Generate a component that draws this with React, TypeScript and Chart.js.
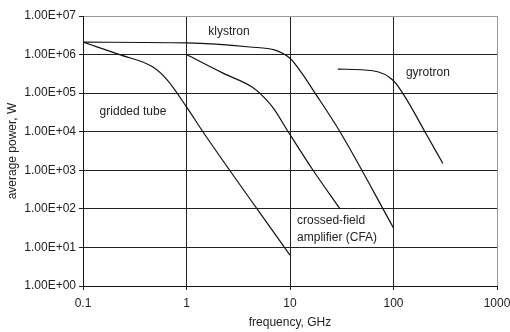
import React, { useEffect, useRef } from "react";
import { Chart, registerables } from "chart.js";

Chart.register(...registerables);

const xTicks = [0.1, 1, 10, 100, 1000];
const yTicks = [1, 10, 100, 1e3, 1e4, 1e5, 1e6, 1e7];

const griddedX = [0.1, 0.23, 0.47, 0.65, 1, 1.44, 10];
const griddedY = [2.1e6, 9.8e5, 4.8e5, 2.2e5, 4.4e4, 1e4, 6.3];

const klystronX = [0.1, 1, 4.1, 7.2, 10, 13, 16.7, 30.4, 100];
const klystronY = [2.1e6, 2.0e6, 1.57e6, 1.3e6, 8.0e5, 3.3e5, 1.2e5, 1e4, 32];

const cfaX = [1, 2.25, 4.3, 5.1, 6.9, 9.6, 16.7, 30.4];
const cfaY = [1e6, 3.3e5, 1.45e5, 1e5, 4.1e4, 1e4, 1e3, 100];

const gyrotronX = [29, 63, 100, 135, 201, 300];
const gyrotronY = [4.2e5, 3.8e5, 2.1e5, 6.6e4, 1e4, 1.5e3];

const noteText = ["klystron", "gridded tube", "gyrotron", "crossed-field", "amplifier (CFA)"];
const noteX = [2.57, 0.304, 215, 11.7, 11.7];
const noteY = [3.85e6, 3.4e4, 3.3e5, 48, 17.5];
const noteAlign = ["center", "center", "center", "left", "left"];

const FONT = "'Liberation Sans', Arial, sans-serif";

function pts(xs: number[], ys: number[]) {
  return xs.map((x, i) => ({ x, y: ys[i] }));
}

function fmtExp(v: number) {
  const e = Math.round(Math.log10(v));
  const s = e < 0 ? "-" : "+";
  const a = Math.abs(e);
  return "1.00E" + s + (a < 10 ? "0" + a : "" + a);
}

const notesPlugin = {
  id: "notes",
  afterDatasetsDraw(chart: any) {
    const ctx = chart.ctx;
    const xs = chart.scales.x;
    const ys = chart.scales.y;
    ctx.save();
    ctx.font = "12px " + FONT;
    ctx.fillStyle = "#222";
    ctx.textBaseline = "middle";
    noteText.forEach((t, i) => {
      ctx.textAlign = noteAlign[i];
      ctx.fillText(t, xs.getPixelForValue(noteX[i]), ys.getPixelForValue(noteY[i]));
    });
    ctx.restore();
  },
};

export default function App() {
  const ref = useRef<HTMLCanvasElement>(null);
  useEffect(() => {
    if (!ref.current) return;
    const line = (xs: number[], ys: number[]) => ({
      data: pts(xs, ys),
      showLine: true,
      borderColor: "#111",
      borderWidth: 1.2,
      pointRadius: 0,
      cubicInterpolationMode: "monotone" as const,
      fill: false,
    });
    const chart = new Chart(ref.current, {
      type: "scatter",
      data: {
        datasets: [
          line(griddedX, griddedY),
          line(klystronX, klystronY),
          line(cfaX, cfaY),
          line(gyrotronX, gyrotronY),
        ],
      },
      options: {
        animation: false,
        responsive: false,
        maintainAspectRatio: false,
        layout: { padding: { left: 0, top: 16, right: 0, bottom: 0 } },
        plugins: { legend: { display: false }, tooltip: { enabled: false } },
        scales: {
          x: {
            type: "logarithmic",
            min: 0.1,
            max: 1000,
            afterBuildTicks: (s: any) => {
              s.ticks = xTicks.map((v) => ({ value: v }));
            },
            afterFit: (s: any) => {
              s.height = 46;
              s.paddingRight = 13;
              s.paddingLeft = 0;
            },
            ticks: {
              color: "#222",
              font: { family: FONT, size: 12 },
              padding: 6,
              maxRotation: 0,
              autoSkip: false,
              callback: (v: any) => String(v),
            },
            grid: {
              color: (c: any) => (c.tick && c.tick.value === 1000 ? "#999" : "#222"),
              tickColor: "#222",
              tickLength: 4,
              lineWidth: 1,
            },
            border: { color: "#111", width: 1 },
            title: {
              display: true,
              text: "frequency, GHz",
              color: "#222",
              font: { family: FONT, size: 12 },
              padding: { top: 0, bottom: 2 },
            },
          },
          y: {
            type: "logarithmic",
            min: 1,
            max: 1e7,
            afterBuildTicks: (s: any) => {
              s.ticks = yTicks.map((v) => ({ value: v }));
            },
            afterFit: (s: any) => {
              s.width = 83;
            },
            ticks: {
              color: "#222",
              font: { family: FONT, size: 12 },
              padding: 3,
              autoSkip: false,
              callback: (v: any) => fmtExp(Number(v)),
            },
            grid: {
              color: (c: any) => (c.tick && c.tick.value === 1e7 ? "#999" : "#222"),
              tickColor: "#222",
              tickLength: 4,
              lineWidth: 1,
            },
            border: { color: "#111", width: 1 },
            title: {
              display: true,
              text: "average power, W",
              color: "#222",
              font: { family: FONT, size: 12 },
              padding: { top: 5, bottom: 0 },
            },
          },
        },
      },
      plugins: [notesPlugin],
    });
    return () => chart.destroy();
  }, []);
  return (
    <div style={{ position: "fixed", left: 0, top: 0, width: 510, height: 332, background: "#fff" }}>
      <canvas ref={ref} width={510} height={332} style={{ width: 510, height: 332, display: "block" }} />
    </div>
  );
}
